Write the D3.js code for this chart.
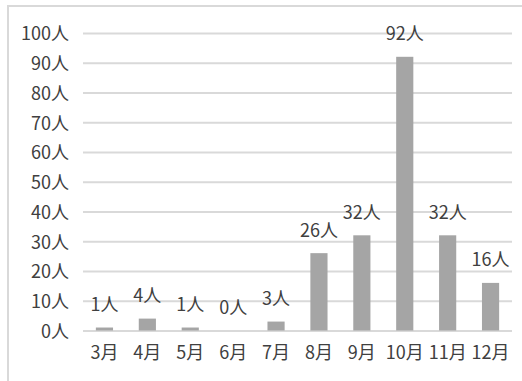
<!DOCTYPE html>
<html><head><meta charset="utf-8">
<script src="https://cdn.jsdelivr.net/npm/d3@7"></script>
<style>body{margin:0;background:#fff}svg{display:block}text{font-family:"Noto Sans CJK JP","Noto Sans",sans-serif;fill:#404040}</style>
</head><body>
<svg id="c" width="522" height="381"></svg>
<script>
const categories = ["3月","4月","5月","6月","7月","8月","9月","10月","11月","12月"];
const values = [1,4,1,0,3,26,32,92,32,16];
const yTicks = [0,10,20,30,40,50,60,70,80,90,100];
const unit = "人";

const svg = d3.select("#c");
svg.append("rect").attr("x",8).attr("y",6).attr("width",530).attr("height",390)
  .attr("fill","none").attr("stroke","#d9d9d9").attr("stroke-width",2);

const x = d3.scaleBand().domain(categories).range([83,512]).paddingInner(0.6).paddingOuter(0.3);
const y = d3.scaleLinear().domain([0,100]).range([330.5,33]);

const yAxis = svg.append("g").attr("transform","translate(83,0)")
  .call(d3.axisLeft(y).tickValues(yTicks).tickSize(-(512-83)).tickFormat(d=>d+unit));
yAxis.select(".domain").remove();
yAxis.selectAll("line").attr("stroke","#d9d9d9").attr("stroke-width",2);
yAxis.selectAll("text").attr("x",-14).attr("dy","0.38em").attr("font-size",18).attr("fill","#404040");

const xAxis = svg.append("g").attr("transform","translate(0,330.5)")
  .call(d3.axisBottom(x).tickSize(0));
xAxis.select(".domain").remove();
xAxis.selectAll("text").attr("dy","0.71em").attr("y",16).attr("font-size",18).attr("fill","#404040");

svg.append("g").selectAll("rect").data(values).join("rect")
  .attr("x",(d,i)=>x(categories[i])).attr("width",x.bandwidth())
  .attr("y",d=>y(d)).attr("height",d=>y(0)-y(d))
  .attr("fill","#a5a5a5");

svg.append("g").selectAll("text").data(values).join("text")
  .attr("x",(d,i)=>x(categories[i])+x.bandwidth()/2)
  .attr("y",d=>y(d)-16.5)
  .attr("text-anchor","middle").attr("font-size",18).attr("fill","#404040")
  .text(d=>d+unit);
</script>
</body></html>
